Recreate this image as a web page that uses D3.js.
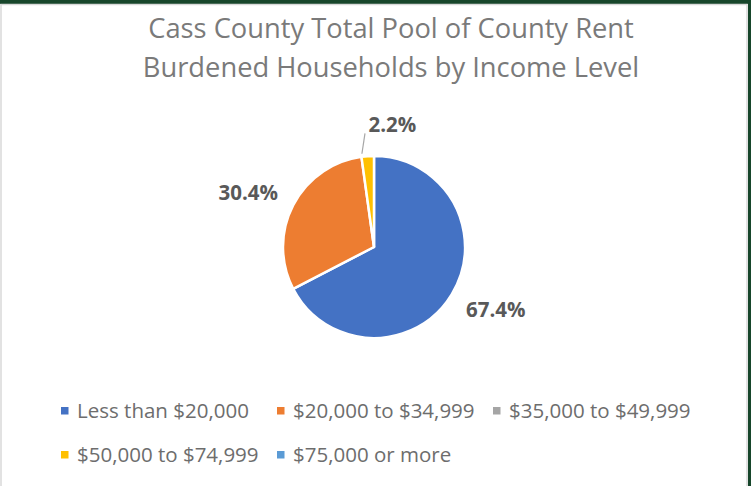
<!DOCTYPE html>
<html>
<head>
<meta charset="utf-8">
<script src="https://cdn.jsdelivr.net/npm/d3@7"></script>
<style>
  body { margin: 0; background: #fff; }
  svg { display: block; font-family: "Open Sans", sans-serif; }
</style>
</head>
<body>
<svg id="canvas"></svg>
<script>
let categories = ['Less than $20,000', '$20,000 to $34,999', '$35,000 to $49,999', '$50,000 to $74,999', '$75,000 or more'];
let shares = [67.4, 30.4, 0, 2.2, 0];
let colors = ['#4472C4', '#ED7D31', '#A5A5A5', '#FFC000', '#5B9BD5'];
let titleLines = ['Cass County Total Pool of County Rent', 'Burdened Households by Income Level'];

let width = 751;
let height = 486;
let cx = 374;
let cy = 247;
let radius = 91;

let canvas = d3.select('#canvas')
  .attr('width', width)
  .attr('height', height);

// frame like the screenshot: green edge top and right, thin grey inner line
canvas.append('rect').attr('x', 0).attr('y', 0).attr('width', width).attr('height', height).attr('fill', '#fff');
canvas.append('rect').attr('x', 0).attr('y', 0).attr('width', width).attr('height', 4).attr('fill', '#17462b');
canvas.append('rect').attr('x', 748).attr('y', 0).attr('width', 3).attr('height', height).attr('fill', '#17462b');
canvas.append('rect').attr('x', 1).attr('y', 4.5).attr('width', 746).attr('height', height + 5)
  .attr('fill', 'none').attr('stroke', '#d9d9d9').attr('stroke-width', 1.5);

// title
canvas.append('g').selectAll('text')
  .data(titleLines)
  .enter()
  .append('text')
  .attr('x', 391)
  .attr('y', (d, i) => 38 + i * 39)
  .attr('text-anchor', 'middle')
  .attr('font-size', 27.3)
  .attr('font-weight', 400)
  .attr('fill', '#7a7a7a')
  .text(d => d);

let data = categories.map((c, i) => ({ name: c, value: shares[i], color: colors[i] }));

let pie = d3.pie()
  .value(d => d.value)
  .sort(null);

let arc = d3.arc()
  .innerRadius(0)
  .outerRadius(radius);

let slices = pie(data);

let pieG = canvas.append('g')
  .attr('transform', 'translate(' + cx + ',' + cy + ')');

pieG.selectAll('path')
  .data(slices.filter(d => d.data.value > 0))
  .enter()
  .append('path')
  .attr('d', arc)
  .attr('fill', d => d.data.color)
  .attr('stroke', '#fff')
  .attr('stroke-width', 2.5)
  .attr('stroke-linejoin', 'round');

// labels (excel's best fit sits a little counter-clockwise of the middle)
let fmt = d => d.toFixed(1) + '%';
let tilt = -0.07;

slices.filter(d => d.data.value >= 5).forEach(d => {
  let mid = (d.startAngle + d.endAngle) / 2 + tilt;
  let [x, y] = d3.pointRadial(mid, 137);
  pieG.append('text')
    .attr('x', x)
    .attr('y', y)
    .attr('dy', '0.35em')
    .attr('text-anchor', 'middle')
    .attr('font-size', 20.5)
    .attr('font-weight', 700)
    .attr('fill', '#595959')
    .text(fmt(d.data.value));
});

// small slice gets a leader line
slices.filter(d => d.data.value > 0 && d.data.value < 5).forEach(d => {
  let mid = (d.startAngle + d.endAngle) / 2;
  let p0 = d3.pointRadial(mid - 0.06, radius + 3);
  let p1 = d3.pointRadial(mid - 0.01, radius + 23);
  pieG.append('line')
    .attr('x1', p0[0]).attr('y1', p0[1])
    .attr('x2', p1[0]).attr('y2', p1[1])
    .attr('stroke', '#a6a6a6')
    .attr('stroke-width', 1.2);
  pieG.append('text')
    .attr('x', p1[0] + 3.5)
    .attr('y', p1[1] - 1)
    .attr('font-size', 20.5)
    .attr('font-weight', 700)
    .attr('fill', '#595959')
    .text(fmt(d.data.value));
});

// legend, three columns wrapping like Excel
let cols = 3;
let colX = d3.scaleBand()
  .domain(d3.range(cols))
  .range([61, 709]);
let rowY = d3.scaleBand()
  .domain([0, 1])
  .range([389, 477]);

let legend = canvas.append('g').selectAll('g')
  .data(data)
  .enter()
  .append('g')
  .attr('transform', (d, i) => 'translate(' + colX(i % cols) + ',' + (rowY(Math.floor(i / cols)) + rowY.bandwidth() / 2) + ')');

legend.append('rect')
  .attr('x', 0)
  .attr('y', -4)
  .attr('width', 7.5)
  .attr('height', 7.5)
  .attr('fill', d => d.color);

legend.append('text')
  .attr('x', 16)
  .attr('y', 6.5)
  .attr('font-size', 20.5)
  .attr('fill', '#6d6d6d')
  .text(d => d.name);
</script>
</body>
</html>
